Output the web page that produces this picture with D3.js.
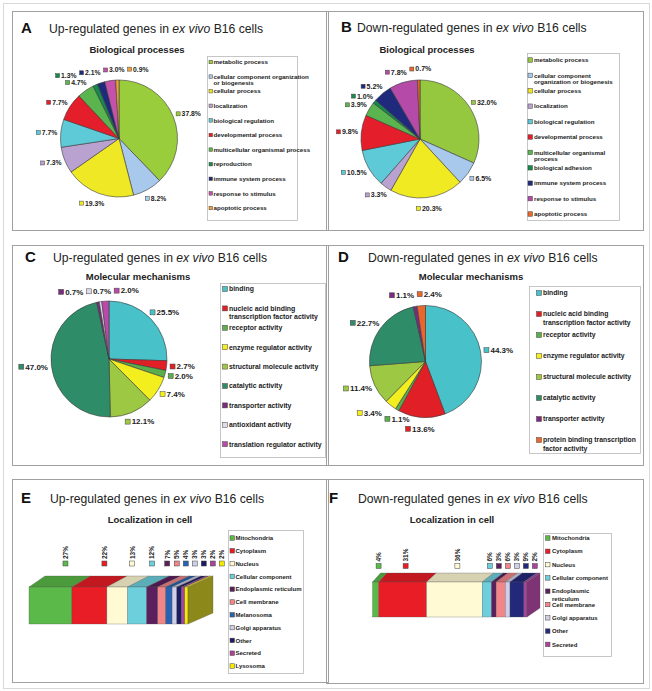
<!DOCTYPE html>
<html><head><meta charset="utf-8">
<script src="https://cdn.jsdelivr.net/npm/d3@7"></script>
<style>
body{margin:0;background:#fff;}
svg{display:block;font-family:"Liberation Sans",Arial,Helvetica,sans-serif;}
</style></head><body>
<svg id="c" width="652" height="691"></svg>
<script>
// ---------- DATA ----------
const bpUpCategories = ["metabolic process","cellular component organization\nor biogenesis","cellular process","localization","biological regulation","developmental process","multicellular organismal process","reproduction","immune system process","response to stimulus","apoptotic process"];
const bpUpValues = [37.8, 8.2, 19.3, 7.3, 7.7, 7.7, 4.7, 1.3, 2.1, 3.0, 0.9];
const bpDownCategories = ["metabolic process","cellular component\norganization or biogenesis","cellular process","localization","biological regulation","developmental process","multicellular organismal\nprocess","biological adhesion","immune system process","response to stimulus","apoptotic process"];
const bpDownValues = [32.0, 6.5, 20.3, 3.3, 10.5, 9.8, 3.9, 1.0, 5.2, 7.8, 0.7];
const mmUpCategories = ["binding","nucleic acid binding\ntranscription factor activity","receptor activity","enzyme regulator activity","structural molecule activity","catalytic activity","transporter activity","antioxidant activity","translation regulator activity"];
const mmUpValues = [25.5, 2.7, 2.0, 7.4, 12.1, 47.0, 0.7, 0.7, 2.0];
const mmDownCategories = ["binding","nucleic acid binding\ntranscription factor activity","receptor activity","enzyme regulator activity","structural molecule activity","catalytic activity","transporter activity","protein binding transcription\nfactor activity"];
const mmDownValues = [44.3, 13.6, 1.1, 3.4, 11.4, 22.7, 1.1, 2.4];
const locUpCategories = ["Mitochondria","Cytoplasm","Nucleus","Cellular component","Endoplasmic reticulum","Cell membrane","Melanosoma","Golgi  apparatus","Other","Secreted","Lysosoma"];
const locUpValues = [27, 22, 13, 12, 7, 5, 4, 3, 3, 2, 2];
const locDownCategories = ["Mitochondria","Cytoplasm","Nucleus","Cellular component","Endoplasmic\nreticulum","Cell membrane","Golgi  apparatus","Other","Secreted"];
const locDownValues = [4, 31, 36, 6, 3, 6, 3, 9, 2];

// ---------- COLOURS ----------
const bpUpColors = ["#9acd3c","#a9c9ec","#efe824","#b9a2cf","#5ecad8","#e41e2a","#5bb54e","#148a4c","#1f2a7c","#c452aa","#f2a23a"];
const bpDownColors = ["#95c83e","#a9c9ec","#f0ea22","#b9a2cf","#5ecad8","#e41e2a","#5bb54e","#148a4c","#1f2a7c","#b64aa8","#e8672c"];
const mmUpColors = ["#49c1c9","#e11f27","#5aae4c","#f3ee1e","#9dc843","#2e8d68","#7b2a80","#dcdcee","#b94aa9"];
const mmDownColors = ["#49c1c9","#e11f27","#5aae4c","#f3ee1e","#9dc843","#2e8d68","#7b2a80","#e8672c"];
const locUpColors = ["#5ab948","#e81d25","#fffad3","#6dcfdc","#5b1f5e","#f28588","#2a62b0","#cfcfea","#1c1c62","#a8449b","#f4ec00"];
const locDownColors = ["#5ab948","#e81d25","#fffad3","#6dcfdc","#5b1f5e","#f28588","#cfcfea","#23287a","#a8449b"];

const svg = d3.select('#c');

function frame(x, y, w, h, stroke) {
  svg.append('rect').attr('x', x + .5).attr('y', y + .5).attr('width', w).attr('height', h)
    .attr('fill', 'none').attr('stroke', stroke).attr('stroke-width', 1);
}
frame(3, 3, 646, 685, '#d8d8d8');
frame(12, 11, 316, 219, '#a0a0a0');
frame(326, 11, 317, 219, '#a0a0a0');
frame(12, 245, 316, 220, '#a0a0a0');
frame(326, 245, 317, 220, '#a0a0a0');
frame(12, 479, 316, 203, '#a0a0a0');
frame(326, 479, 317, 204, '#a0a0a0');

function header(letter, lx, ly, tx, prefix, ct, ctx, cty) {
  svg.append('text').attr('x', lx).attr('y', ly).attr('font-size', 15).attr('font-weight', 'bold').attr('fill', '#111').text(letter);
  const t = svg.append('text').attr('x', tx).attr('y', ly).attr('font-size', 12.2).attr('fill', '#222');
  t.append('tspan').text(prefix + ' genes in ');
  t.append('tspan').attr('font-style', 'italic').text('ex vivo');
  t.append('tspan').text(' B16 cells');
  svg.append('text').attr('x', ctx).attr('y', cty).attr('text-anchor', 'middle').attr('font-size', 9.5)
    .attr('font-weight', 'bold').attr('fill', '#222').text(ct);
}

function drawPie(cfg) {
  const g = svg.append('g');
  const arcs = d3.pie().sort(null).value(d => d)(cfg.values);
  const arc = d3.arc().innerRadius(0).outerRadius(cfg.r);
  g.append('g').attr('transform', `translate(${cfg.cx},${cfg.cy})`)
    .selectAll('path').data(arcs).join('path').attr('d', arc)
    .attr('fill', (d, i) => cfg.colors[i]).attr('stroke', '#3a3a3a').attr('stroke-width', 0.6);
  const fs = cfg.fs, sq = cfg.sq;
  const items = arcs.map((d, i) => {
    const lg = g.append('g');
    lg.append('rect').attr('width', sq).attr('height', sq).attr('y', -sq / 2)
      .attr('fill', cfg.colors[i]).attr('stroke', '#444').attr('stroke-width', 0.5);
    const t = lg.append('text').attr('x', sq + 1.5).attr('dy', '0.35em').attr('font-size', fs)
      .attr('font-weight', 'bold').attr('fill', '#222').text(d3.format('.1f')(cfg.values[i]) + '%');
    const w = sq + 1.5 + t.node().getComputedTextLength();
    const a = (d.startAngle + d.endAngle) / 2;
    const s = Math.sin(a), c = Math.cos(a);
    const R = cfg.r + cfg.off + cfg.offTop * c * c;
    const px = cfg.cx + R * s, py = cfg.cy - R * c;
    const h = fs;
    const x = px - w / 2 + s * w / 2;
    return { lg, w, h, x, y: py - c * h / 2, order: x + w / 2 };
  });
  for (let it = 0; it < 100; it++) {
    let moved = false;
    for (let i = 0; i < items.length; i++) for (let j = i + 1; j < items.length; j++) {
      const A = items[i], B = items[j];
      const oy = Math.min(A.y + A.h / 2, B.y + B.h / 2) - Math.max(A.y - A.h / 2, B.y - B.h / 2);
      if (oy <= 0) continue;
      const ox = Math.min(A.x + A.w, B.x + B.w) - Math.max(A.x, B.x) + cfg.pad;
      if (ox <= 0.01) continue;
      const [L, Rr] = A.order <= B.order ? [A, B] : [B, A];
      L.x -= ox / 2; Rr.x += ox / 2; moved = true;
    }
    if (!moved) break;
  }
  items.forEach(o => o.lg.attr('transform', `translate(${o.x},${o.y})`));
}

function drawLegend(cfg) {
  const g = svg.append('g');
  g.append('rect').attr('x', cfg.x + .5).attr('y', cfg.y + .5).attr('width', cfg.w).attr('height', cfg.h)
    .attr('fill', '#fff').attr('stroke', '#b8b8b8').attr('stroke-width', 0.8);
  cfg.cats.forEach((c, i) => {
    const y = cfg.y0 + i * cfg.step;
    g.append('rect').attr('x', cfg.sqx).attr('y', y - cfg.sq / 2).attr('width', cfg.sq).attr('height', cfg.sq)
      .attr('fill', cfg.colors[i]).attr('stroke', '#444').attr('stroke-width', 0.5);
    const t = g.append('text').attr('font-size', cfg.fs).attr('font-weight', cfg.fw).attr('fill', '#1a1a1a');
    c.split('\n').forEach((line, k) => t.append('tspan').attr('x', cfg.tx).attr('y', y + k * cfg.lh).attr('dy', '0.35em').text(line));
  });
}

function drawBar3D(cfg) {
  const g = svg.append('g');
  const total = d3.sum(cfg.values);
  const x = d3.scaleLinear().domain([0, total]).range([cfg.x0, cfg.x1]);
  const dxAt = xx => cfg.dx0 + (xx - cfg.x0) / (cfg.x1 - cfg.x0) * (cfg.dx1 - cfg.dx0);
  const cum = d3.cumsum(cfg.values);
  const segs = cfg.values.map((v, i) => ({ s: cum[i] - v, e: cum[i], c: cfg.colors[i], v }));
  const yT = cfg.yTop, yB = cfg.yBot, dy = cfg.dy;
  g.selectAll('path.top').data(segs).join('path').attr('class', 'top')
    .attr('d', d => {
      const a = x(d.s), b = x(d.e);
      return `M${a},${yT}L${b},${yT}L${b + dxAt(b)},${yT - dy}L${a + dxAt(a)},${yT - dy}Z`;
    })
    .attr('fill', d => d3.color(d.c).darker(0.5)).attr('stroke', '#555').attr('stroke-width', 0.3);
  g.selectAll('rect.front').data(segs).join('rect').attr('class', 'front')
    .attr('x', d => x(d.s)).attr('y', yT).attr('width', d => x(d.e) - x(d.s)).attr('height', yB - yT)
    .attr('fill', d => d.c).attr('stroke', '#555').attr('stroke-width', 0.3);
  const last = segs[segs.length - 1];
  const xe = x(total), dd = dxAt(xe);
  const sideCol = d3.interpolateRgb(d3.color(last.c).darker(cfg.sideDark), '#808080')(cfg.sideGrey);
  g.append('path').attr('d', `M${xe},${yT}L${xe + dd},${yT - dy}L${xe + dd},${yB - dy}L${xe},${yB}Z`)
    .attr('fill', sideCol).attr('stroke', '#555').attr('stroke-width', 0.3);
  let prev = -Infinity;
  segs.forEach(d => {
    let lx = (x(d.s) + x(d.e)) / 2 + cfg.shift;
    if (lx < prev + cfg.gap) lx = prev + cfg.gap;
    prev = lx;
    g.append('rect').attr('x', lx - cfg.sq / 2).attr('y', cfg.sqY).attr('width', cfg.sq).attr('height', cfg.sq)
      .attr('fill', d.c).attr('stroke', '#444').attr('stroke-width', 0.5);
    g.append('text').attr('transform', `translate(${lx},${cfg.sqY - 2}) rotate(-90)`).attr('dy', '0.35em')
      .attr('font-size', cfg.fs).attr('font-weight', 'bold').attr('fill', '#222').text(d.v + '%');
  });
}

// ---------- PANEL A ----------
header('A', 21, 33, 49, 'Up-regulated', 'Biological processes', 137, 53);
drawPie({ cx: 119, cy: 138.5, r: 58.5, values: bpUpValues, colors: bpUpColors, fs: 6.8, sq: 4, off: 3.5, offTop: 4, pad: 3 });
drawLegend({ x: 207, y: 56, w: 90, h: 164, cats: bpUpCategories, colors: bpUpColors, y0: 62, step: 14.6,
  sqx: 209, sq: 3.5, tx: 213.5, fs: 6.2, fw: 'bold', lh: 6.3 });

// ---------- PANEL B ----------
header('B', 341, 32, 357, 'Down-regulated', 'Biological processes', 427, 53);
drawPie({ cx: 420, cy: 139, r: 59, values: bpDownValues, colors: bpDownColors, fs: 7, sq: 4, off: 3.5, offTop: 4, pad: 3 });
drawLegend({ x: 527, y: 53, w: 92, h: 167, cats: bpDownCategories, colors: bpDownColors, y0: 60, step: 15.4,
  sqx: 528, sq: 4.5, tx: 534, fs: 6.2, fw: 'bold', lh: 6.5 });

// ---------- PANEL C ----------
header('C', 25, 262, 53, 'Up-regulated', 'Molecular mechanisms', 138, 280);
drawPie({ cx: 109, cy: 359, r: 58, values: mmUpValues, colors: mmUpColors, fs: 8, sq: 5, off: 3.5, offTop: 3, pad: 3 });
drawLegend({ x: 220, y: 283, w: 105, h: 174, cats: mmUpCategories, colors: mmUpColors, y0: 289, step: 19.4,
  sqx: 222.5, sq: 5, tx: 229, fs: 6.9, fw: 'bold', lh: 8 });

// ---------- PANEL D ----------
header('D', 338, 262, 368, 'Down-regulated', 'Molecular mechanisms', 471, 280);
drawPie({ cx: 425.5, cy: 361.5, r: 56, values: mmDownValues, colors: mmDownColors, fs: 8, sq: 5, off: 3.5, offTop: 4, pad: 3 });
drawLegend({ x: 529, y: 286, w: 111, h: 167, cats: mmDownCategories, colors: mmDownColors, y0: 293, step: 21,
  sqx: 536.5, sq: 5, tx: 543, fs: 6.8, fw: 'bold', lh: 8.5 });

// ---------- PANEL E ----------
header('E', 21, 503, 50, 'Up-regulated', 'Localization in cell', 150, 523);
drawBar3D({ x0: 29, x1: 188, yTop: 587, yBot: 624, dx0: 16, dx1: 25, dy: 11, values: locUpValues, colors: locUpColors,
  sqY: 561, sq: 5, shift: 15, gap: 9, fs: 6.5, sideDark: 1.5, sideGrey: 0.2 });
drawLegend({ x: 228, y: 530, w: 75, h: 143, cats: locUpCategories, colors: locUpColors, y0: 538, step: 12.8,
  sqx: 230, sq: 4.5, tx: 235.5, fs: 6, fw: 'bold', lh: 7 });

// ---------- PANEL F ----------
header('F', 329, 503, 358, 'Down-regulated', 'Localization in cell', 452, 523);
drawBar3D({ x0: 372.5, x1: 527, yTop: 582, yBot: 617, dx0: 8, dx1: 13, dy: 9, values: locDownValues, colors: locDownColors,
  sqY: 563.5, sq: 5, shift: 3, gap: 9, fs: 6.5, sideDark: 0.8, sideGrey: 0 });
drawLegend({ x: 543, y: 533, w: 68, h: 123, cats: locDownCategories, colors: locDownColors, y0: 538, step: 13.3,
  sqx: 545.5, sq: 4.5, tx: 552, fs: 6, fw: 'bold', lh: 7.5 });
</script>
</body></html>
